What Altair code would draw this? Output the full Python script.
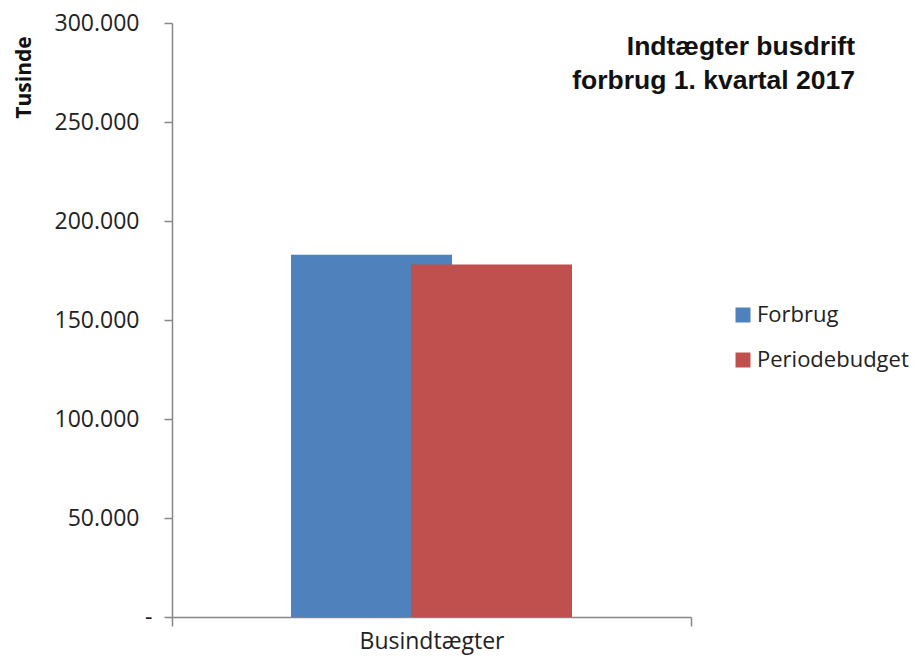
import altair as alt
import pandas as pd

categories = ["Busindtægter", "Busindtægter"]
series = ["Forbrug", "Periodebudget"]
values = [183000, 178000]
colors = ["#4F81BD", "#C0504D"]

df = pd.DataFrame({"kategori": categories, "serie": series, "vaerdi": values, "order": [0, 1]})

axis_gray = "#868686"
label_font = "Open Sans"

chart = alt.Chart(df).mark_bar(size=161).encode(
    x=alt.X("kategori:N", title=None,
            scale=alt.Scale(paddingInner=0, paddingOuter=0),
            axis=alt.Axis(labelAngle=0, labelFont=label_font, labelFontSize=23, labelColor="#222222",
                          domainColor=axis_gray, tickColor=axis_gray, tickSize=9, tickBand="extent",
                          labelPadding=4, domainWidth=1.5, tickWidth=1.5)),
    xOffset=alt.XOffset("serie:N", scale=alt.Scale(type="point", padding=0, range=[199.5, 319.5])),
    y=alt.Y("vaerdi:Q", title="Tusinde",
            scale=alt.Scale(domain=[0, 300000], nice=False),
            axis=alt.Axis(values=[0, 50000, 100000, 150000, 200000, 250000, 300000],
                          labelExpr="datum.value == 0 ? '-' : replace(format(datum.value, ',.0f'), ',', '.')",
                          grid=False, labelFont=label_font, labelFontSize=23, labelColor="#222222",
                          labelPadding={"condition": {"test": "datum.value == 0", "value": 12}, "value": 25},
                          domainColor=axis_gray, tickColor=axis_gray, tickSize=8,
                          domainWidth=1.5, tickWidth=1.5,
                          titleFont=label_font, titleFontSize=21, titleFontWeight="bold", titleColor="#111111",
                          titleAngle=270, titleX=-148, titleY=54, titleAlign="center", titleBaseline="middle")),
    color=alt.Color("serie:N", scale=alt.Scale(domain=series, range=colors),
                    legend=alt.Legend(title=None, orient="none", legendX=560, legendY=281,
                                      symbolType="square", symbolSize=225, symbolStrokeWidth=0,
                                      labelFont=label_font, labelFontSize=22, labelColor="#222222",
                                      labelOffset=3, rowPadding=23)),
    order=alt.Order("order:Q"),
).properties(
    width=519, height=594,
    autosize=alt.AutoSizeParams(type="none"),
    padding={"left": 164, "top": 15, "right": 221, "bottom": 38},
    title=alt.TitleParams(["Indtægter busdrift", "forbrug 1. kvartal 2017"], anchor="end", frame="group",
                          orient="top", font="Liberation Sans", fontSize=26.5, fontWeight="bold",
                          color="#111111", lineHeight=34, dx=164, dy=82, offset=0),
).configure_view(stroke=None)

chart.save("out.html", embed_options={"renderer": "svg", "actions": False})
